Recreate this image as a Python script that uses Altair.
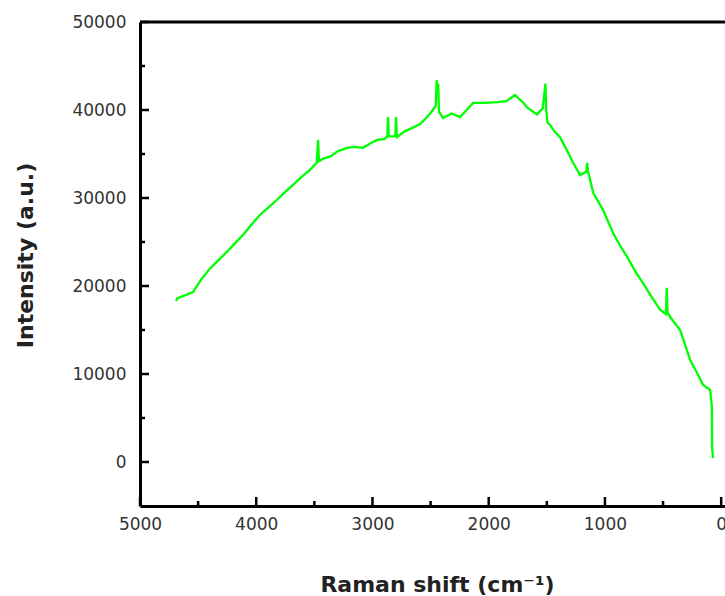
import altair as alt
import pandas as pd

# Raman spectrum
shift = [4690, 4680, 4620, 4544, 4470, 4398, 4320, 4251, 4180, 4114, 4040, 3967,
         3890, 3821, 3750, 3683, 3610, 3537, 3480, 3468, 3460, 3420, 3365, 3300,
         3219, 3150, 3081, 3020, 2960, 2900, 2872, 2866, 2860, 2820, 2803, 2797,
         2790, 2720, 2651, 2590, 2530, 2480, 2455, 2448, 2440, 2434, 2428, 2392,
         2320, 2246, 2190, 2134, 2030, 1928, 1850, 1773, 1700, 1670, 1584, 1535,
         1520, 1512, 1505, 1495, 1472, 1430, 1386, 1330, 1274, 1213, 1160, 1153,
         1145, 1101, 1015, 929, 870, 809, 740, 671, 600, 525, 475, 468, 462, 430,
         353, 310, 267, 210, 155, 95, 80, 78, 70]
intensity = [18300, 18600, 18900, 19300, 20800, 22000, 23000, 23900, 24900, 25800,
             27000, 28100, 29000, 29800, 30700, 31500, 32400, 33200, 34000, 36600,
             34200, 34500, 34700, 35300, 35700, 35800, 35700, 36200, 36600, 36700,
             37000, 39200, 37000, 37000, 37100, 39200, 36900, 37600, 38000, 38400,
             39200, 40000, 40500, 43400, 42000, 43000, 39800, 39100, 39600, 39200,
             40000, 40800, 40800, 40900, 41000, 41700, 40800, 40300, 39500, 40200,
             42000, 43000, 40000, 38600, 38300, 37500, 36900, 35500, 34000, 32600,
             33000, 34000, 33000, 30600, 28600, 26000, 24600, 23300, 21700, 20300,
             18800, 17300, 16800, 19800, 17000, 16300, 15000, 13300, 11600, 10200,
             8750, 8200, 6250, 1600, 450]

x_major = [5000, 4000, 3000, 2000, 1000, 0]
x_minor = [4500, 3500, 2500, 1500, 500]
y_major = [0, 10000, 20000, 30000, 40000, 50000]
y_minor = [5000, 15000, 25000, 35000, 45000]

W, H = 585, 484
XDOM = [5000, -33]
YDOM = [-5000, 50000]

df = pd.DataFrame({"shift": shift, "intensity": intensity})
xs = alt.Scale(domain=XDOM, nice=False, zero=False)
ys = alt.Scale(domain=YDOM, nice=False, zero=False)

x_axis = alt.Axis(values=x_major, format="d", title="Raman shift (cm⁻¹)",
                  titleX=297, titleY=85, titleBaseline="alphabetic",
                  labelPadding=10, labelFlush=False)
y_axis = alt.Axis(values=y_major, format="d", title="Intensity (a.u.)",
                  titleX=-115, titleY=233, titleAngle=-90,
                  titleAlign="center", titleBaseline="middle",
                  labelPadding=14, labelFlush=False)

line = alt.Chart(df).mark_line(color="#00ff00", strokeWidth=2.3, clip=True).encode(
    x=alt.X("shift:Q", scale=xs, axis=x_axis),
    y=alt.Y("intensity:Q", scale=ys, axis=y_axis),
)

def xticks(vals, length):
    d = pd.DataFrame({"shift": vals})
    return alt.Chart(d).mark_rule(color="black", strokeWidth=2.5).encode(
        x=alt.X("shift:Q", scale=xs, axis=x_axis),
        y=alt.value(H),
        y2=alt.value(H - length),
    )

def yticks(vals, length):
    d = pd.DataFrame({"intensity": vals})
    return alt.Chart(d).mark_rule(color="black", strokeWidth=2.5).encode(
        y=alt.Y("intensity:Q", scale=ys, axis=y_axis),
        x=alt.value(0),
        x2=alt.value(length),
    )

top = alt.Chart(pd.DataFrame({"a": [0]})).mark_rule(color="black", strokeWidth=3).encode(
    x=alt.value(0), x2=alt.value(W), y=alt.value(0)
)

chart = alt.layer(
    line, xticks(x_major, 9), xticks(x_minor, 5), yticks(y_major, 9), yticks(y_minor, 5), top
).properties(
    width=W, height=H,
    autosize=alt.AutoSizeParams(type="none"),
    padding={"left": 140, "top": 22, "right": 0, "bottom": 90},
).configure_view(stroke=None).configure_axis(
    grid=False, ticks=False, domain=True, domainColor="black", domainWidth=3,
    labelFont="DejaVu Sans", labelFontSize=17, labelColor="#333333",
    titleFont="DejaVu Sans", titleFontSize=22, titleFontWeight="bold",
    titleColor="#222222",
)

chart.save("out.html", embed_options={"renderer": "svg", "actions": False})
